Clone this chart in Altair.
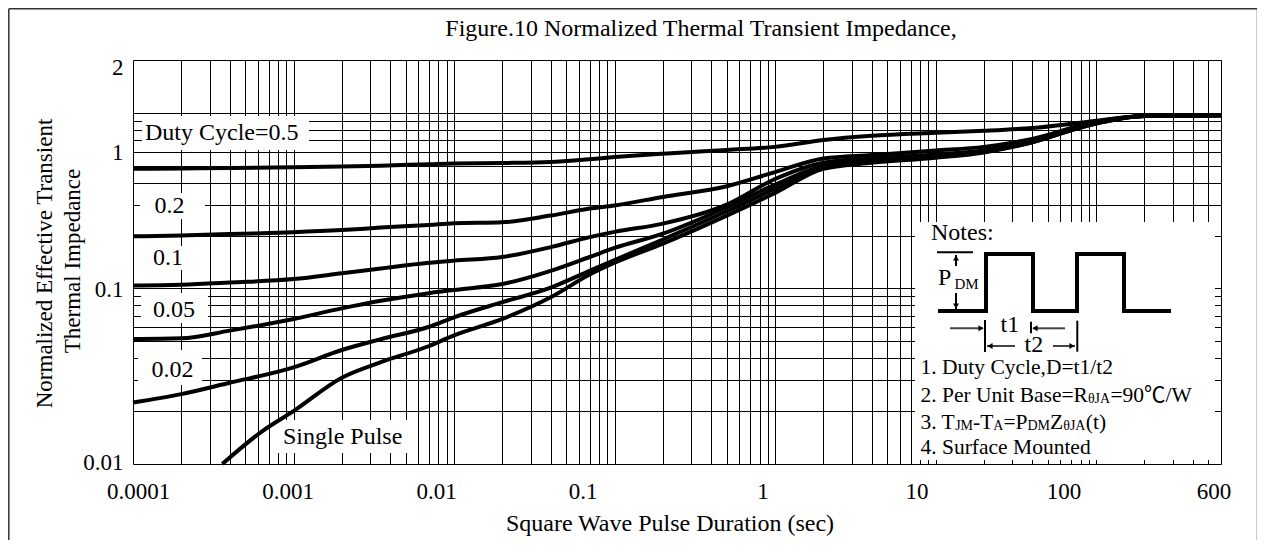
import altair as alt
import pandas as pd

# ------------------------------------------------------------------ data
# pulse duration grid (sec) shared by the duty-cycle curves
T = [1e-4, 2e-4, 4e-4, 1e-3, 2e-3, 3.5e-3, 7e-3, 0.01, 0.02, 0.04, 0.07,
     0.1, 0.2, 0.5, 1, 2, 4, 10, 20, 40, 90, 200, 600]
D05 = [0.48, 0.482, 0.485, 0.49, 0.495, 0.50, 0.51, 0.515, 0.518, 0.525, 0.545,
       0.56, 0.585, 0.615, 0.64, 0.70, 0.74, 0.77, 0.79, 0.82, 0.89, 0.96, 0.97]
D02 = [0.198, 0.20, 0.204, 0.209, 0.215, 0.222, 0.23, 0.235, 0.238, 0.26, 0.285,
       0.297, 0.332, 0.382, 0.46, 0.55, 0.575, 0.61, 0.64, 0.71, 0.87, 0.96, 0.97]
D01 = [0.104, 0.105, 0.108, 0.113, 0.122, 0.13, 0.14, 0.144, 0.151, 0.172, 0.196,
       0.21, 0.234, 0.30, 0.42, 0.52, 0.55, 0.58, 0.61, 0.69, 0.86, 0.96, 0.97]
D005 = [0.0515, 0.052, 0.0575, 0.067, 0.077, 0.085, 0.094, 0.098, 0.106, 0.126, 0.151,
        0.17, 0.205, 0.29, 0.39, 0.50, 0.54, 0.57, 0.60, 0.69, 0.86, 0.96, 0.97]
D002 = [0.0224, 0.025, 0.029, 0.0355, 0.0446, 0.0514, 0.0605, 0.0685, 0.0835, 0.101, 0.126,
        0.145, 0.19, 0.275, 0.37, 0.49, 0.53, 0.56, 0.60, 0.68, 0.85, 0.96, 0.97]
T_SINGLE = [3.6e-4, 6.4e-4, 1e-3, 2e-3, 3.5e-3, 7e-3, 0.01, 0.02, 0.04, 0.07,
            0.1, 0.2, 0.5, 1, 2, 4, 10, 20, 40, 90, 200, 600]
SINGLE = [0.01, 0.0154, 0.02, 0.031, 0.038, 0.047, 0.054, 0.067, 0.089, 0.12,
          0.14, 0.18, 0.26, 0.35, 0.48, 0.52, 0.555, 0.595, 0.68, 0.85, 0.96, 0.97]
SERIES = ["0.5", "0.2", "0.1", "0.05", "0.02"]

X_TICK_VALUES = [0.0001, 0.001, 0.01, 0.1, 1, 10, 100, 600]
X_TICK_LABELS = ["0.0001", "0.001", "0.01", "0.1", "1", "10", "100", "600"]
Y_TICK_VALUES = [0.01, 0.1, 1, 2]
Y_TICK_LABELS = ["0.01", "0.1", "1", "2"]

TITLE = "Figure.10 Normalized Thermal Transient Impedance,"
X_TITLE = "Square Wave Pulse Duration (sec)"
Y_TITLE = ["Normalized Effective Transient", "Thermal Impedance"]

# ------------------------------------------------------------------ layout / style
W, H = 1088, 404
LEFT, TOP = 133, 60
FONT = "Liberation Serif, Noto Sans CJK SC"
X_LABEL_SHIFT = [5, -6, -18, -32, -12.5, -19, -32.5, -7.5]
Y_LABEL_SHIFT = [-2, 1.5, 40, 7]

rows = []
for name, vals in zip(SERIES, [D05, D02, D01, D005, D002]):
    for t, z in zip(T, vals):
        rows.append({"series": name, "t": t, "z": z})
for t, z in zip(T_SINGLE, SINGLE):
    rows.append({"series": "Single Pulse", "t": t, "z": z})
curves = pd.DataFrame(rows)

X_GRID = sorted(set([round(m * 10.0 ** e, 10) for e in range(-4, 2) for m in range(1, 10)]
                    + [100, 200, 300, 400, 500, 600]))
Y_GRID = [round(m * 10.0 ** e, 10) for e in (-2, -1) for m in range(1, 10)] + [1, 2]


def label_expr(vals, labs):
    s = ""
    for v, l in zip(vals, labs):
        s += f"datum.value == {v} ? '{l}' : "
    return s + "''"


def label_offset(vals, shifts):
    return {"condition": [{"test": f"datum.value == {v}", "value": s} for v, s in zip(vals, shifts)],
            "value": 0}


x_axis = alt.Axis(values=X_GRID, orient="bottom", grid=True, gridColor="black", gridWidth=1,
                  gridOpacity=1, domain=False, ticks=False, tickSize=0,
                  labelExpr=label_expr(X_TICK_VALUES, X_TICK_LABELS),
                  labelOffset=label_offset(X_TICK_VALUES, X_LABEL_SHIFT),
                  labelFont=FONT, labelFontSize=23, labelColor="black", labelPadding=16,
                  labelFlush=False, labelOverlap=False, title=None)
y_axis = alt.Axis(values=Y_GRID, orient="left", grid=True, gridColor="black", gridWidth=1,
                  gridOpacity=1, domain=False, ticks=False, tickSize=0,
                  labelExpr=label_expr(Y_TICK_VALUES, Y_TICK_LABELS),
                  labelOffset=label_offset(Y_TICK_VALUES, Y_LABEL_SHIFT),
                  labelFont=FONT, labelFontSize=23, labelColor="black", labelPadding=10,
                  labelFlush=False, labelOverlap=False, title=None)

main = alt.Chart(curves).mark_line(color="black", strokeWidth=4, interpolate="monotone").encode(
    x=alt.X("t:Q", scale=alt.Scale(type="log", domain=[1e-4, 600], nice=False), axis=x_axis),
    y=alt.Y("z:Q", scale=alt.Scale(type="log", domain=[0.01, 2], nice=False), axis=y_axis),
    detail="series:N",
)

# ------------------------------------------------------------------ overlay (plot units)
def ox(px):
    return px - LEFT


def oy(py):
    return TOP + H - py


OVX = alt.Scale(domain=[0, W], nice=False, zero=False)
OVY = alt.Scale(domain=[0, H], nice=False, zero=False)


def enc_xy(ch, xcol="x", ycol="y"):
    return ch.encode(x=alt.X(f"{xcol}:Q", scale=OVX, axis=None),
                     y=alt.Y(f"{ycol}:Q", scale=OVY, axis=None))


BOXES = [(142, 309, 116, 150), (140, 205, 193, 219), (145, 193, 246, 270),
         (141, 208, 293, 323), (138, 202, 350, 385), (277, 407, 420, 453),
         (915, 1215, 222, 460)]
boxes_df = pd.DataFrame([{"x": ox(a), "x2": ox(b), "y": oy(c), "y2": oy(d)} for a, b, c, d in BOXES])
boxes = alt.Chart(boxes_df).mark_rect(color="white").encode(
    x=alt.X("x:Q", scale=OVX, axis=None), x2="x2:Q",
    y=alt.Y("y:Q", scale=OVY, axis=None), y2="y2:Q")

# Times metrics for subscript placement
TM = {'.': 250, ' ': 250, '0': 500, '1': 500, '2': 500, '3': 500, '4': 500, '9': 500,
      'P': 556, 'e': 444, 'r': 333, 'U': 722, 'n': 500, 'i': 278, 't': 278, 'B': 667,
      'a': 444, 's': 389, '=': 564, 'R': 667, 'T': 611, 'J': 389, 'M': 889, '-': 333,
      'A': 722, 'D': 722, 'Z': 611, '(': 333, ')': 333, 'θ': 500}


def tw(s, size):
    return sum(TM.get(c, 500) for c in s) * size / 1000.0


MAIN_SZ, SUB_SZ = 21.5, 14
texts = [
    ("Duty Cycle=0.5", 145, 140, 24), ("0.2", 154.5, 213, 24), ("0.1", 153, 264.5, 24),
    ("0.05", 153, 317, 24), ("0.02", 151.5, 376.5, 24), ("Single Pulse", 283, 443.5, 24),
    ("Notes:", 931, 240, 24), ("P", 938, 285, 24), ("DM", 954.5, 288.5, 15),
    ("t1", 1000.5, 331.7, 24), ("t2", 1024.5, 352, 24),
    ("1. Duty Cycle,D=t1/t2", 920.5, 374, MAIN_SZ), ("4. Surface Mounted", 920.5, 454, MAIN_SZ),
]
for baseline, segs in [(401.7, [("2. Per Unit Base=R", 0), ("θJA", 1), ("=90℃/W", 0)]),
                       (429.3, [("3. T", 0), ("JM", 1), ("-T", 0), ("A", 1), ("=P", 0),
                                ("DM", 1), ("Z", 0), ("θJA", 1), ("(t)", 0)])]:
    xx = 920.5
    for s, sub in segs:
        sz = SUB_SZ if sub else MAIN_SZ
        texts.append((s, xx, baseline + (1 if sub else 0), sz))
        xx += tw(s, sz)
text_df = pd.DataFrame([{"text": s, "x": ox(a), "y": oy(b), "size": z} for s, a, b, z in texts])
left_text = enc_xy(alt.Chart(text_df).mark_text(align="left", baseline="alphabetic",
                                                 font=FONT, color="black")).encode(
    text="text:N", size=alt.Size("size:Q", scale=None))

ctexts = [(TITLE, 701, 36, 24, 0), (X_TITLE, 670, 530.5, 24, 0),
          (Y_TITLE[0], 52, 263.5, 23, 270), (Y_TITLE[1], 80, 261, 23, 270)]
ctext_df = pd.DataFrame([{"text": s, "x": ox(a), "y": oy(b), "size": z, "angle": g}
                         for s, a, b, z, g in ctexts])
center_text = enc_xy(alt.Chart(ctext_df).mark_text(align="center", baseline="alphabetic",
                                                    font=FONT, color="black")).encode(
    text="text:N", size=alt.Size("size:Q", scale=None), angle=alt.Angle("angle:Q", scale=None))

# square wave of the notes diagram
WAVE = [(938, 311), (986, 311), (986, 254), (1033, 254), (1033, 311), (1077, 311),
        (1077, 254), (1124, 254), (1124, 311), (1171, 311)]
wave_df = pd.DataFrame([{"i": i, "x": ox(a), "y": oy(b)} for i, (a, b) in enumerate(WAVE)])
wave = enc_xy(alt.Chart(wave_df).mark_line(color="black", strokeWidth=4, strokeJoin="miter")).encode(
    order="i:Q")


def seg_df(segs):
    return pd.DataFrame([{"x": ox(a), "y": oy(b), "x2": ox(c), "y2": oy(d)} for a, b, c, d in segs])


def rule_layer(segs, color, width):
    return alt.Chart(seg_df(segs)).mark_rule(color=color, strokeWidth=width).encode(
        x=alt.X("x:Q", scale=OVX, axis=None), y=alt.Y("y:Q", scale=OVY, axis=None),
        x2="x2:Q", y2="y2:Q")


BARS = [(937, 252.3, 973, 252.3), (985, 320, 985, 352), (1031, 321.7, 1031, 333.3),
        (1077.3, 320.7, 1077.3, 351.7), (956, 255, 956, 266), (956, 293, 956, 309)]
SHAFTS = [(950, 328.3, 983, 328.3), (1033, 328.3, 1065, 328.3),
          (987, 346, 1015, 346), (1053, 346, 1075, 346)]
bars = rule_layer(BARS, "black", 2)
shafts = rule_layer(SHAFTS, "#444444", 2)

HEADS = [(956, 258, "triangle-up"), (956, 306, "triangle-down"), (981, 328.3, "triangle-right"),
         (1035, 328.3, "triangle-left"), (990, 346, "triangle-left"), (1072, 346, "triangle-right")]
heads_df = pd.DataFrame([{"x": ox(a), "y": oy(b), "shape": s} for a, b, s in HEADS])
heads = enc_xy(alt.Chart(heads_df).mark_point(filled=True, color="black", size=35, opacity=1)).encode(
    shape=alt.Shape("shape:N", scale=None))

FRAME = [(8.8, 8.8, 1257.5, 8.8), (8.8, 8.8, 8.8, 540), (1257.5, 8.8, 1257.5, 540)]
frame = rule_layer(FRAME, "#333333", 1.5)

notes = alt.layer(frame, bars, shafts, wave, heads, left_text, center_text)

chart = alt.layer(boxes, main, notes).resolve_scale(
    x="independent", y="independent"
).properties(
    width=W, height=H,
    padding={"left": LEFT - 8, "top": TOP - 8, "right": 36, "bottom": 76},
    autosize=alt.AutoSizeParams(type="none"),
).configure_view(stroke="black", strokeWidth=3.5).configure(background="white")

chart.save("out.html", embed_options={"renderer": "svg", "actions": False})
